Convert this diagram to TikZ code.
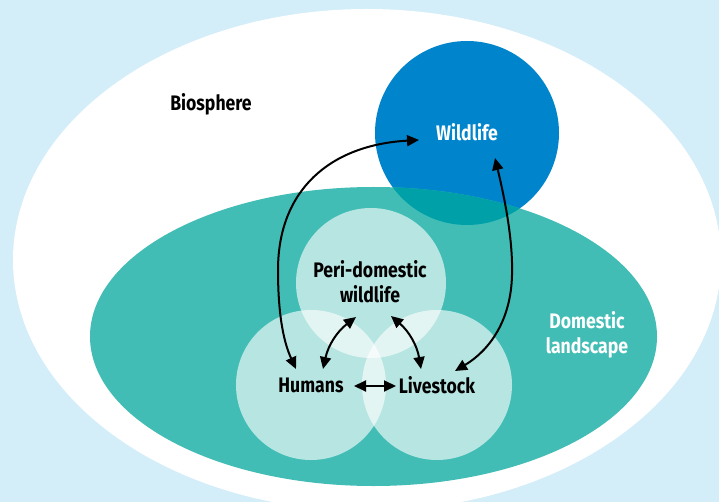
\documentclass[tikz,border=0pt]{standalone}
\usepackage{fontspec}
\setmainfont{Fira Sans}[FakeStretch=0.84]
\usetikzlibrary{arrows.meta}
\definecolor{bgc}{HTML}{D3EEF9}
\definecolor{tealc}{HTML}{42BDB5}
\definecolor{bluec}{HTML}{0085CC}
\definecolor{overc}{HTML}{00A0A8}
\tikzset{
  lightc/.style={circle, fill=white, fill opacity=0.62, draw=none, minimum size=150pt, inner sep=0pt},
  lbl/.style={font=\fontsize{21}{25}\selectfont\bfseries, align=center, inner sep=0pt, text=black},
  wlbl/.style={lbl, text=white},
  conn/.style={line width=2pt, {Triangle[length=12pt,width=11pt]}-{Triangle[length=12pt,width=11pt]}}
}
\begin{document}
\begin{tikzpicture}[x=1pt,y=-1pt]
\useasboundingbox (0,0) rectangle (719,502);
\fill[bgc] (0,0) rectangle (719,502);
\fill[white] (367,260) ellipse (354pt and 251pt);
\node[circle, fill=bluec, minimum size=184pt, inner sep=0pt] (wildc) at (467,133) {};
\fill[tealc] (373.5,336.5) ellipse (283.5pt and 149.5pt);
\begin{scope}
  \clip (467,133) circle (92pt);
  \fill[overc] (373.5,336.5) ellipse (283.5pt and 149.5pt);
\end{scope}
\node[lightc] (peric) at (371,283) {};
\node[lightc] (humc) at (311,385) {};
\node[lightc] (livc) at (437,385) {};
% labels
\node[lbl] (bio) at (211,104) {Biosphere};
\node[wlbl] (wild) at (467,132) {Wildlife};
\node[lbl] (peri) at (370,282) {Peri-domestic\\wildlife};
\node[lbl] (hum) at (311,385) {Humans};
\node[lbl] (liv) at (437,385) {Livestock};
\node[wlbl] (dom) at (587,335) {Domestic\\landscape};
% connectors
\draw[conn] ([shift={(-48,8)}]wild.center) .. controls (330,145) and (278,190) .. (278,270)
  .. controls (278,320) and (285,345) .. ([shift={(-15,-16)}]hum.center);
\draw[conn] ([shift={(28,26)}]wild.center) .. controls (505,200) and (513,240) .. (512,275)
  .. controls (511,320) and (490,350) .. ([shift={(18,-14)}]liv.center);
\draw[conn] ([shift={(12,-16)}]hum.center) to[bend left=20] ([shift={(-14,35)}]peri.center);
\draw[conn] ([shift={(21,34)}]peri.center) to[bend left=20] ([shift={(-16,-16)}]liv.center);
\draw[conn] ([shift={(43,1)}]hum.center) -- ([shift={(-41,1)}]liv.center);
\end{tikzpicture}
\end{document}
